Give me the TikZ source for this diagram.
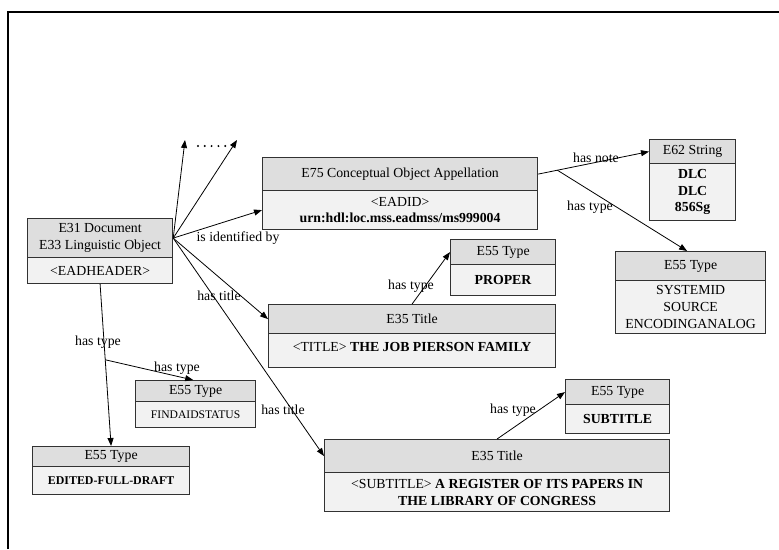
\documentclass[tikz,border=0pt]{standalone}
\usepackage{fontspec}
\setmainfont{Liberation Serif}
\usetikzlibrary{arrows.meta,calc}
\definecolor{hdrgray}{RGB}{222,222,222}
\definecolor{bdygray}{RGB}{242,242,242}
\definecolor{boxline}{RGB}{50,50,50}
\newcommand{\crmbox}[9][]{%
  \node[hdr, minimum width={(#5-#3)*1pt}, minimum height={(#6-#4)*1pt}, anchor=north west] (#2h) at (#3,#4) {#8};
  \node[bdy, #1, minimum width={(#5-#3)*1pt}, minimum height={(#7-#6)*1pt}, anchor=north west] (#2b) at (#3,#6) {#9};
}
\begin{document}
\begin{tikzpicture}[x=1pt,y=-1pt,
  every node/.style={font=\fontsize{13.8}{16.8}\selectfont},
  hdr/.style={draw=boxline, line width=1.2pt, fill=hdrgray, inner sep=1pt, align=center},
  bdy/.style={draw=boxline, line width=1.2pt, fill=bdygray, inner sep=1pt, align=center},
  conn/.style={draw=black, line width=0.8pt},
  arr/.style={conn, -{Triangle[length=8pt,width=6pt]}},
  lbl/.style={inner sep=0pt, fill=none}]
\useasboundingbox (0,0) rectangle (779,549);
% frame
\draw[line width=2pt] (7.7,549) -- (7.7,12) -- (779,12);

% boxes
\crmbox{e31}{27}{218}{172}{257}{283}{E31 Document\\E33 Linguistic Object}{<EADHEADER>}
\crmbox{e75}{262}{157}{537}{190}{229}{E75 Conceptual Object Appellation}{<EADID>\\\textbf{urn:hdl:loc.mss.eadmss/ms999004}}
\crmbox{e62}{649}{139}{735}{163}{220}{E62 String}{\textbf{DLC}\\\textbf{DLC}\\\textbf{856Sg}}
\crmbox{sys}{615}{251}{765}{280}{333}{E55 Type}{SYSTEMID\\SOURCE\\ENCODINGANALOG}
\crmbox{pr}{450}{239}{555}{264}{295}{E55 Type}{\textbf{PROPER}}
\crmbox[text height=10pt, text depth=8pt]{t1}{268}{304}{555}{333}{367}{E35 Title}{<TITLE> \textbf{THE JOB PIERSON FAMILY}}
\crmbox{fa}{135}{380}{255}{401}{427}{E55 Type}{{\fontsize{11.6}{12}\selectfont FINDAIDSTATUS}}
\crmbox{ed}{32}{446}{189}{466}{494}{E55 Type}{{\fontsize{11.9}{12}\selectfont\textbf{EDITED-FULL-DRAFT}}}
\crmbox{st}{565}{379}{669}{404}{433}{E55 Type}{\textbf{SUBTITLE}}
\crmbox{t2}{324}{439}{669}{472}{511}{E35 Title}{<SUBTITLE> \textbf{A REGISTER OF ITS PAPERS IN}\\\textbf{THE LIBRARY OF CONGRESS}}

% free ends
\coordinate (up1) at (185,140);
\coordinate (up2) at (237,140);
\foreach \i in {0,...,4} \fill (198+\i*6.8,146) circle (1.1pt);

% connectors from E31
\draw[arr] (e31h.east) -- (up1);
\draw[arr] (e31h.east) -- (up2);
\draw[arr] (e31h.east) -- (e75b.west);
\draw[arr] (e31h.east) -- (t1h.west);
\draw[arr] (e31h.east) -- (t2h.west);
\node[lbl] at (238,238) {is identified by};
\node[lbl] at (219,296) {has title};
\node[lbl] at (283,410) {has title};

% E31 -> types
\draw[arr] (e31b.south) -- (edh.north);
\coordinate (br1) at ($(e31b.south)!0.467!(edh.north)$);
\draw[arr] (br1) -- ($(fah.north west)!0.48!(fah.north east)$);
\node[lbl] at (98,342) {has type};
\node[lbl] at (177,368) {has type};

% E75 -> E62 / type
\draw[arr] (e75h.east) -- (e62h.west);
\coordinate (br2) at ($(e75h.east)!0.173!(e62h.west)$);
\draw[arr] (br2) -- ($(sysh.north west)!0.477!(sysh.north east)$);
\node[lbl] at (596,158) {has note};
\node[lbl] at (590,207) {has type};

% titles -> types
\draw[arr] (t1h.north) -- (prh.west);
\node[lbl] at (411,286) {has type};
\draw[arr] (t2h.north) -- (sth.west);
\node[lbl] at (513,410) {has type};
\end{tikzpicture}
\end{document}
